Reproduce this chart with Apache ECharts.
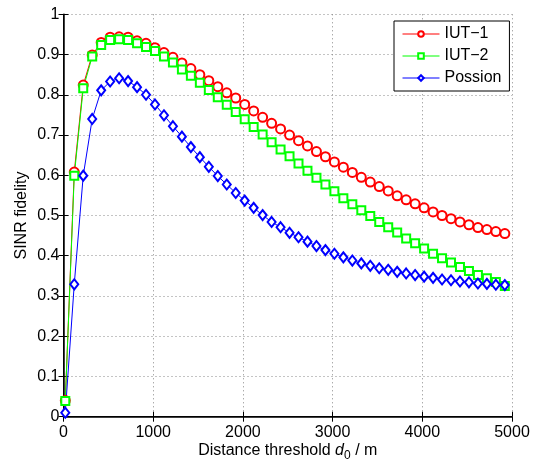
<!DOCTYPE html>
<html><head><meta charset="utf-8">
<script src="https://cdn.jsdelivr.net/npm/echarts@6/dist/echarts.min.js"></script>
<style>html,body{margin:0;padding:0;background:#fff}#c{width:537px;height:461px}</style>
</head><body><div id="c"></div>
<script>
const distances = [20,120,220,320,420,520,620,720,820,920,1020,1120,1220,1320,1420,1520,1620,1720,1820,1920,2020,2120,2220,2320,2420,2520,2620,2720,2820,2920,3020,3120,3220,3320,3420,3520,3620,3720,3820,3920,4020,4120,4220,4320,4420,4520,4620,4720,4820,4920];
const iut1 = [0.040,0.608,0.824,0.899,0.930,0.943,0.944,0.943,0.934,0.928,0.917,0.905,0.893,0.879,0.865,0.850,0.835,0.820,0.805,0.792,0.776,0.760,0.744,0.729,0.715,0.700,0.686,0.673,0.659,0.646,0.633,0.620,0.607,0.595,0.583,0.572,0.561,0.549,0.539,0.529,0.519,0.509,0.500,0.492,0.484,0.477,0.470,0.465,0.460,0.455];
const iut2 = [0.039,0.599,0.816,0.895,0.924,0.936,0.938,0.936,0.928,0.919,0.909,0.895,0.880,0.863,0.847,0.830,0.812,0.794,0.775,0.757,0.739,0.720,0.701,0.682,0.664,0.647,0.629,0.611,0.594,0.577,0.560,0.543,0.528,0.513,0.499,0.484,0.471,0.458,0.443,0.431,0.418,0.405,0.394,0.383,0.372,0.362,0.352,0.344,0.335,0.325];
const possion = [0.010,0.329,0.599,0.740,0.811,0.833,0.841,0.834,0.819,0.800,0.776,0.749,0.722,0.696,0.670,0.645,0.621,0.598,0.577,0.556,0.537,0.519,0.501,0.484,0.471,0.457,0.446,0.435,0.424,0.414,0.405,0.396,0.388,0.381,0.375,0.369,0.365,0.360,0.356,0.352,0.348,0.345,0.341,0.339,0.336,0.334,0.331,0.330,0.328,0.327];
const seriesNames = ['IUT\u22121','IUT\u22122','Possion'];
const xName = 'Distance threshold ';
const yName = 'SINR fidelity';

const FONT = '"Liberation Sans", Arial, Helvetica, sans-serif';
const pairs = ys => distances.map((x, i) => [x, ys[i]]);
const chart = echarts.init(document.getElementById('c'), null, {renderer: 'canvas'});

const baseAxisLine = {show: true, lineStyle: {color: '#000', width: 1.5}};
const tick = {show: true, inside: true, length: 5, lineStyle: {color: '#000', width: 1}};
const gridLine = {show: true, lineStyle: {color: '#888', type: [1, 3], width: 1}};

chart.setOption({
  animation: false,
  backgroundColor: '#fff',
  grid: {left: 63.5, right: 25, top: 14.3, bottom: 44.3, containLabel: false, outerBoundsMode: 'none'},
  legend: {
    orient: 'vertical',
    left: 394, top: 21,
    padding: [5, 8, 5, 8],
    itemGap: 6,
    itemWidth: 37, itemHeight: 7,
    backgroundColor: '#fff',
    borderColor: '#000', borderWidth: 1, borderRadius: 0,
    lineStyle: {width: 1},
    itemStyle: {borderWidth: 1},
    textStyle: {fontFamily: FONT, fontSize: 16, color: '#000'},
    data: seriesNames
  },
  xAxis: [{
    type: 'value', min: 0, max: 5000, interval: 1000,
    position: 'bottom',
    axisLine: baseAxisLine, axisTick: tick,
    axisLabel: {fontFamily: FONT, fontSize: 16, color: '#000', margin: 8, formatter: v => String(v)},
    splitLine: gridLine,
    name: '{t|' + xName + '}{i|d}{s|0}{t| / m}',
    nameLocation: 'middle', nameGap: 23, nameMoveOverlap: false,
    nameTextStyle: {
      rich: {
        t: {fontFamily: FONT, fontSize: 16, color: '#000'},
        i: {fontFamily: FONT, fontSize: 16, color: '#000', fontStyle: 'italic'},
        s: {fontFamily: FONT, fontSize: 12, color: '#000', padding: [10, 0, 0, 0]}
      }
    }
  }, {
    type: 'value', min: 0, max: 5000, interval: 1000,
    position: 'top',
    axisLine: {show: true, lineStyle: {color: '#000', width: 1}}, axisTick: tick,
    axisLabel: {show: false}, splitLine: {show: false}
  }],
  yAxis: [{
    type: 'value', min: 0, max: 1, interval: 0.1,
    position: 'left',
    axisLine: baseAxisLine, axisTick: tick,
    axisLabel: {fontFamily: FONT, fontSize: 16, color: '#000', margin: 4},
    splitLine: gridLine,
    name: yName, nameLocation: 'middle', nameGap: 34, nameMoveOverlap: false,
    nameTextStyle: {fontFamily: FONT, fontSize: 16, color: '#000'}
  }, {
    type: 'value', min: 0, max: 1, interval: 0.1,
    position: 'right',
    axisLine: {show: true, lineStyle: {color: '#000', width: 1}}, axisTick: tick,
    axisLabel: {show: false}, splitLine: {show: false}
  }],
  series: [{
    name: seriesNames[0], type: 'line', data: pairs(iut1),
    symbol: 'emptyCircle', symbolSize: 9,
    lineStyle: {color: '#ff0000', width: 1},
    itemStyle: {color: '#ff0000', borderWidth: 1}
  }, {
    name: seriesNames[1], type: 'line', data: pairs(iut2),
    symbol: 'emptyRect', symbolSize: 8,
    lineStyle: {color: '#00ff00', width: 1},
    itemStyle: {color: '#00ff00', borderWidth: 1}
  }, {
    name: seriesNames[2], type: 'line', data: pairs(possion),
    symbol: 'emptyDiamond', symbolSize: [8, 10],
    lineStyle: {color: '#0000ff', width: 1},
    itemStyle: {color: '#0000ff', borderWidth: 1}
  }]
});
</script>
</body></html>
